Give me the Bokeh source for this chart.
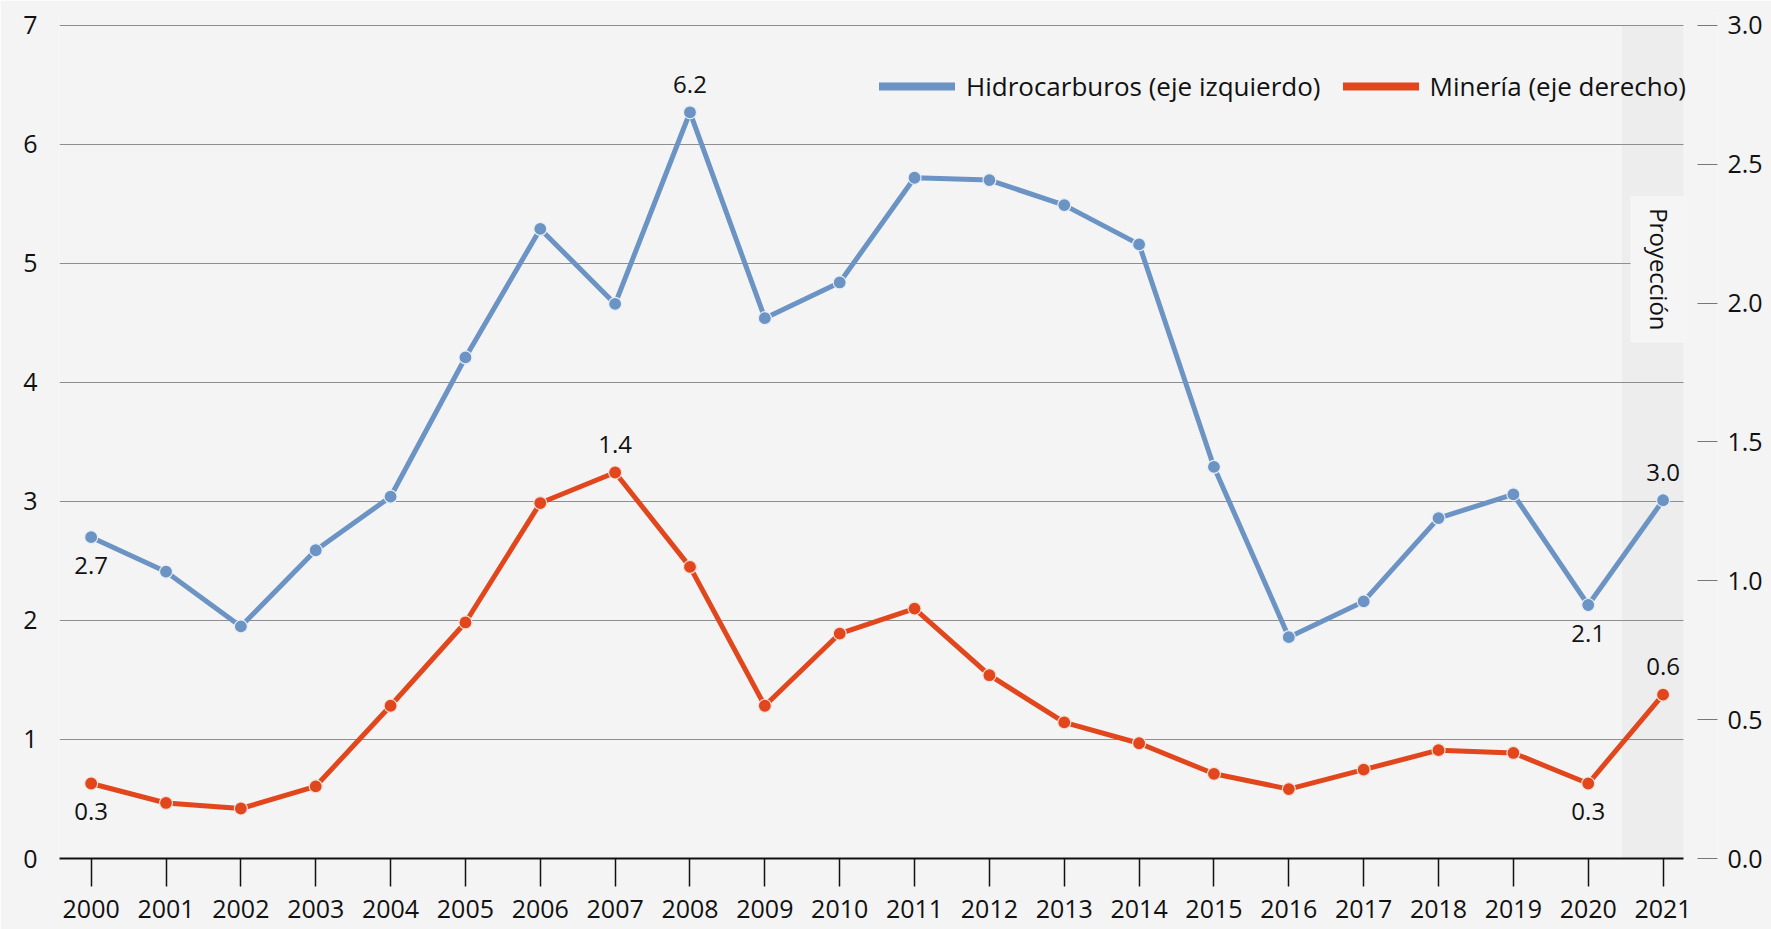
import math
from bokeh.plotting import figure
from bokeh.models import (Range1d, LinearAxis, Legend, LegendItem, Label,
                          BoxAnnotation, ColumnDataSource, FixedTicker, CustomJSTickFormatter)
from bokeh.embed import file_html
from bokeh.resources import INLINE

# ---------------- data ----------------
years = list(range(2000, 2022))
hidrocarburos = [2.70, 2.41, 1.95, 2.59, 3.04, 4.21, 5.29, 4.66, 6.27, 4.54, 4.84,
                 5.72, 5.70, 5.49, 5.16, 3.29, 1.86, 2.16, 2.86, 3.06, 2.13, 3.01]
mineria = [0.27, 0.20, 0.18, 0.26, 0.55, 0.85, 1.28, 1.39, 1.05, 0.55, 0.81,
           0.90, 0.66, 0.49, 0.415, 0.305, 0.25, 0.32, 0.39, 0.38, 0.27, 0.59]
hidro_label_years = [2000, 2008, 2020, 2021]
hidro_label_texts = ["2.7", "6.2", "2.1", "3.0"]
hidro_label_pos = ["below", "above", "below", "above"]
min_label_years = [2000, 2007, 2020, 2021]
min_label_texts = ["0.3", "1.4", "0.3", "0.6"]
min_label_pos = ["below", "above", "below", "above"]
left_ticks = [0, 1, 2, 3, 4, 5, 6, 7]
right_ticks = [0.0, 0.5, 1.0, 1.5, 2.0, 2.5, 3.0]
legend_labels = ["Hidrocarburos (eje izquierdo)", "Minería (eje derecho)"]
projection_text = "Proyección"

BLUE = "#6b93c3"
RED = "#e2461c"
BG = "#f4f4f4"
FONT = "Open Sans"
FS = "25px"

x_lo, x_hi = 1999.577, 2021.727
grid_hi = 2021.27
y_top = 7.1

p = figure(width=1771, height=929, x_range=Range1d(x_lo, x_hi), y_range=Range1d(0, y_top),
           output_backend="svg", toolbar_location=None,
           min_border_left=59, min_border_right=54, min_border_top=13, min_border_bottom=71)
p.extra_y_ranges = {"right": Range1d(0, 3 * y_top / 7)}
p.background_fill_color = BG
p.border_fill_color = BG
p.outline_line_color = None

# projection band (behind grid)
band = BoxAnnotation(left=years[-1] - 0.55, right=grid_hi, bottom=0, top=left_ticks[-1],
                     fill_color="#ededed", fill_alpha=1.0, line_color=None, level="image")
p.add_layout(band)

# grid
p.xgrid.grid_line_color = None
p.ygrid.grid_line_color = "#8e8e8e"
p.ygrid.grid_line_width = 1.2
p.ygrid.ticker = FixedTicker(ticks=left_ticks[1:])
p.ygrid.cross_bounds = (x_lo, grid_hi)

# x axis
xa = p.xaxis[0]
xa.ticker = FixedTicker(ticks=years)
xa.bounds = (x_lo, grid_hi)
xa.axis_line_color = "#111111"
xa.axis_line_width = 2
xa.major_tick_line_color = "#111111"
xa.major_tick_line_width = 1.5
xa.major_tick_out = 28
xa.major_tick_in = 0
xa.minor_tick_line_color = None
xa.major_label_standoff = 13
xa.major_label_text_font = FONT
xa.major_label_text_font_size = FS
xa.major_label_text_color = "#111111"

# left axis
ya = p.yaxis[0]
ya.ticker = FixedTicker(ticks=left_ticks)
ya.axis_line_color = None
ya.major_tick_line_color = None
ya.minor_tick_line_color = None
ya.major_label_standoff = 16
ya.major_label_text_font = FONT
ya.major_label_text_font_size = FS
ya.major_label_text_color = "#111111"

# right axis
ra = LinearAxis(y_range_name="right", ticker=FixedTicker(ticks=right_ticks))
ra.axis_line_color = None
ra.major_tick_in = 20
ra.major_tick_out = 0
ra.major_tick_line_color = "#777777"
ra.major_tick_line_width = 1.2
ra.minor_tick_line_color = None
ra.major_label_standoff = 10
ra.major_label_text_font = FONT
ra.major_label_text_font_size = FS
ra.major_label_text_color = "#111111"
ra.formatter = CustomJSTickFormatter(code="return tick.toFixed(1);")
p.add_layout(ra, "right")

# series
src_h = ColumnDataSource(dict(x=years, y=hidrocarburos))
src_m = ColumnDataSource(dict(x=years, y=mineria))
p.line("x", "y", source=src_h, line_color=BLUE, line_width=5)
p.scatter("x", "y", source=src_h, size=13, fill_color=BLUE, line_color="#e8eef6", line_width=1.2)
p.line("x", "y", source=src_m, line_color=RED, line_width=5, y_range_name="right")
p.scatter("x", "y", source=src_m, size=13, fill_color=RED, line_color="#f6e0d8", line_width=1.2,
          y_range_name="right")

# data labels
def add_labels(lyears, texts, pos, series, rng):
    for yr, t, ps in zip(lyears, texts, pos):
        val = series[years.index(yr)]
        off = -28 if ps == "below" else 28
        p.add_layout(Label(x=yr, y=val, text=t, y_range_name=rng, y_offset=off,
                           text_align="center", text_baseline="middle",
                           text_font=FONT, text_font_size="24px", text_color="#111111"))

add_labels(hidro_label_years, hidro_label_texts, hidro_label_pos, hidrocarburos, "default")
add_labels(min_label_years, min_label_texts, min_label_pos, mineria, "right")

# projection label
p.add_layout(Label(x=years[-1], y=4.95, x_offset=-4, text=projection_text, angle=-math.pi / 2,
                   text_align="center", text_baseline="middle", text_font=FONT,
                   text_font_size="24px", text_color="#111111",
                   background_fill_color="#f5f5f5", background_fill_alpha=1.0,
                   padding=12))

# legend (dummy thick lines)
lg_h = p.line([years[0]], [float("nan")], line_color=BLUE, line_width=8, line_cap="round")
lg_m = p.line([years[0]], [float("nan")], line_color=RED, line_width=8, line_cap="round")
legend = Legend(items=[LegendItem(label=legend_labels[0], renderers=[lg_h]),
                       LegendItem(label=legend_labels[1], renderers=[lg_m])],
                orientation="horizontal", location=(820, 754),
                glyph_width=76, glyph_height=24, label_standoff=11, spacing=22,
                padding=0, margin=0, border_line_color=None,
                background_fill_alpha=0, label_text_font=FONT,
                label_text_font_size="26px", label_text_color="#111111")
p.add_layout(legend, "center")

open("out.html", "w").write(file_html(p, INLINE))
